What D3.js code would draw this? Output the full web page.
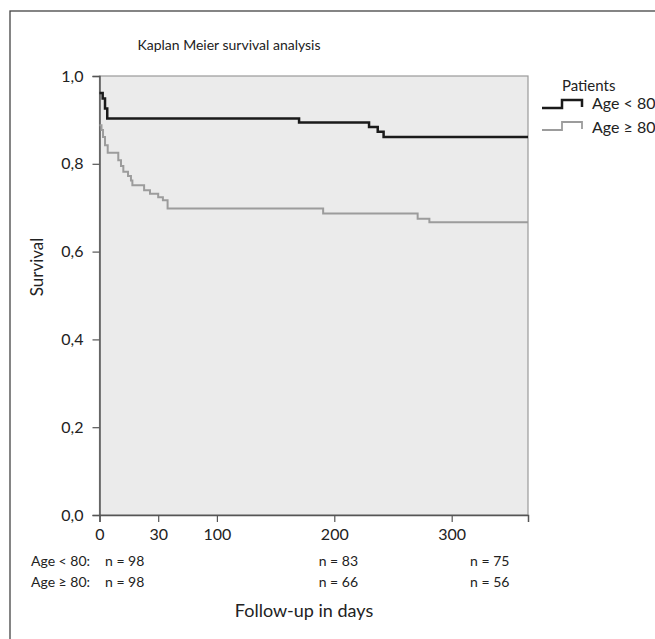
<!DOCTYPE html>
<html><head><meta charset="utf-8">
<script src="https://cdn.jsdelivr.net/npm/d3@7"></script>
<style>body{margin:0;background:#fff}svg{display:block}text{font-family:Lato,"Open Sans",sans-serif;fill:#222}</style>
</head><body><svg id="c" width="655" height="639"></svg>
<script>
// Data
const groups = ["Age < 80", "Age \u2265 80"];
const youngTimes = [0, 2.7, 4.7, 6.6, 170, 229.6, 237, 242, 365];
const youngSurv  = [0.961, 0.949, 0.926, 0.903, 0.894, 0.884, 0.873, 0.861, 0.861];
const oldTimes = [0, 1.7, 3, 4.7, 7, 16, 18.3, 20.3, 24.3, 26.8, 28, 38, 43, 50, 54, 58, 190.5, 271, 281, 365];
const oldSurv  = [0.888, 0.877, 0.861, 0.842, 0.825, 0.808, 0.795, 0.782, 0.772, 0.762, 0.751, 0.740, 0.732, 0.724, 0.717, 0.698, 0.687, 0.675, 0.667, 0.667];
const xTickValues = [0, 50, 100, 200, 300];
const xTickLabels = ["0", "30", "100", "200", "300"];
const yTickValues = [0, 0.2, 0.4, 0.6, 0.8, 1.0];
const atRiskTimes = [0, 182, 311];
const atRiskYoung = [98, 83, 75];
const atRiskOld = [98, 66, 56];

const svg = d3.select("#c");
const m = {l: 99.5, r: 528, t: 76, b: 515};
const x = d3.scaleLinear().domain([0, 365]).range([m.l, m.r]);
const y = d3.scaleLinear().domain([0, 1]).range([m.b, m.t]);

// outer frame
svg.append("rect").attr("x", 10).attr("y", 11).attr("width", 800).attr("height", 800)
  .attr("fill", "none").attr("stroke", "#444").attr("stroke-width", 1.3);

// plot background
svg.append("rect").attr("x", m.l).attr("y", m.t).attr("width", m.r - m.l).attr("height", m.b - m.t)
  .attr("fill", "#ebebeb").attr("stroke", "#9a9a9a").attr("stroke-width", 1.2);

// axes
const fmt = d => d3.format(".1f")(d).replace(".", ",");
const yAxis = svg.append("g").attr("transform", `translate(${m.l},0)`)
  .call(d3.axisLeft(y).tickValues(yTickValues).tickFormat(fmt).tickSize(7).tickPadding(9));
const xAxis = svg.append("g").attr("transform", `translate(0,${m.b})`)
  .call(d3.axisBottom(x).tickValues(xTickValues).tickFormat((d, i) => xTickLabels[i]).tickSize(7).tickPadding(7));
[yAxis, xAxis].forEach(a => {
  a.select(".domain").attr("stroke", "#555").attr("stroke-width", 1.5);
  a.selectAll(".tick line").attr("stroke", "#555").attr("stroke-width", 1.2);
  a.selectAll(".tick text").style("font-family", "Lato").style("font-size", "16px").attr("fill", "#222");
});

// curves
const line = d3.line().x(d => x(d[0])).y(d => y(d[1])).curve(d3.curveStepAfter);
svg.append("path").datum(d3.zip(oldTimes, oldSurv)).attr("d", line)
  .attr("fill", "none").attr("stroke", "#9c9c9c").attr("stroke-width", 2);
svg.append("path").datum(d3.zip(youngTimes, youngSurv)).attr("d", line)
  .attr("fill", "none").attr("stroke", "#1a1a1a").attr("stroke-width", 2.5);

// title
svg.append("text").attr("x", 229).attr("y", 50).attr("text-anchor", "middle")
  .style("font-size", "14px").text("Kaplan Meier survival analysis");

// y label
svg.append("text").attr("transform", `translate(43,267) rotate(-90)`)
  .attr("text-anchor", "middle").style("font-size", "17px").text("Survival");

// legend
svg.append("text").attr("x", 562).attr("y", 91).style("font-size", "15px").text("Patients");
const legendColors = ["#1a1a1a", "#9c9c9c"];
const legendWidths = [2.5, 1.8];
groups.forEach((g, i) => {
  const by = 108 + i * 22;
  svg.append("path").attr("d", `M542,${by}H562V${by - 8}H582V${by - 1}`)
    .attr("fill", "none").attr("stroke", legendColors[i]).attr("stroke-width", legendWidths[i]);
  svg.append("text").attr("x", 592).attr("y", by + 1 + i * 2).style("font-size", "16px").text(g);
});

// at risk table
const rows = [atRiskYoung, atRiskOld];
rows.forEach((vals, r) => {
  const ty = 566 + r * 21;
  svg.append("text").attr("x", 31).attr("y", ty).style("font-size", "14px").text(groups[r] + ":");
  vals.forEach((v, i) => {
    svg.append("text").attr("x", x(atRiskTimes[i]) + 5.5).attr("y", ty).style("font-size", "14px")
      .text("n = " + v);
  });
});

// x label
svg.append("text").attr("x", 304).attr("y", 617).attr("text-anchor", "middle")
  .style("font-size", "18px").text("Follow-up in days");
</script></body></html>
